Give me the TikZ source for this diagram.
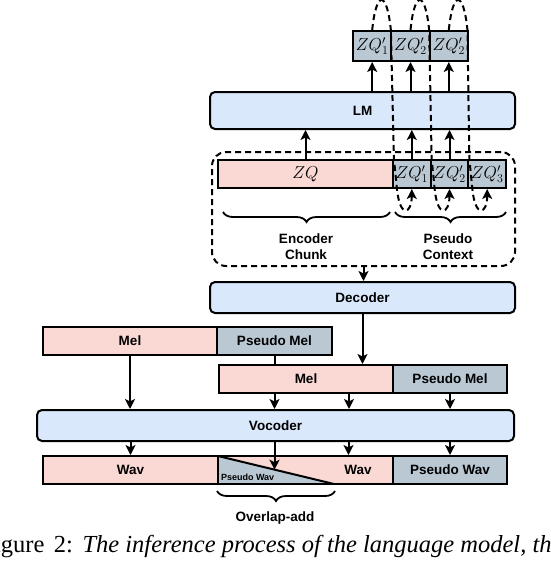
\documentclass[tikz,border=0pt]{standalone}
\usepackage{fontspec}
\setsansfont{Liberation Sans}
\newfontfamily\capfont{Liberation Serif}
\usetikzlibrary{arrows.meta,decorations.pathreplacing}
\definecolor{modelBlue}{HTML}{DAE8FC}
\definecolor{realPink}{HTML}{FAD9D5}
\definecolor{pseudoGrey}{HTML}{BAC8D3}

\begin{document}
\begin{tikzpicture}[x=1pt, y=-1pt, line width=2pt,
    every node/.style={font=\sffamily\bfseries\fontsize{13.5}{16}\selectfont, inner sep=0pt},
    model/.style={draw, fill=modelBlue, rounded corners=5pt, minimum width=305pt},
    real/.style={draw, fill=realPink, minimum height=28pt},
    pseudo/.style={draw, fill=pseudoGrey, minimum height=28pt},
    zq/.style={font=\fontsize{16.5}{18}\selectfont},
    flow/.style={-{Stealth[length=10pt,width=10pt,inset=2.5pt]}},
    feedback/.style={flow, dash pattern=on 6pt off 4pt},
    bracebelow/.style={line width=1.8pt, decorate, decoration={brace, mirror, amplitude=10pt}}]
    \useasboundingbox (0,0) rectangle (550,562);

    \node[model, minimum height=37pt] (lm) at (362.5,110.5) {LM};
    \foreach \i/\x/\t in {1/372.2/1, 2/410.5/2, 3/448.8/2}{
        \node[pseudo, zq, minimum width=38.3pt, minimum height=30pt] (out\i) at (\x,46) {$ZQ'_\t$};
    }

    \node[draw, dash pattern=on 6pt off 4pt, rounded corners=14pt, minimum width=303pt, minimum height=114pt] (ctx) at (363.5,209) {};
    \node[real, zq, minimum width=175pt] (zq) at (305.5,174) {$ZQ$};
    \foreach \i/\x in {1/411.8, 2/449.5, 3/487.2}{
        \node[pseudo, zq, minimum width=37.7pt] (in\i) at (\x,174) {$ZQ'_\i$};
    }
    \draw[bracebelow] (223,212) -- (390,212);
    \draw[bracebelow] (395,212) -- (506,212);
    \node[align=center] (enc) at (306,247) {Encoder\\Chunk};
    \node[align=center] (psc) at (448,247) {Pseudo\\Context};

    \node[model, minimum height=31pt] (dec) at (362.5,297.5) {Decoder};

    \node[real, minimum width=174pt] (mel1) at (130,341) {Mel};
    \node[pseudo, minimum width=115pt] (pmel1) at (274.5,341) {Pseudo Mel};
    \node[real, minimum width=174pt] (mel2) at (306,379) {Mel};
    \node[pseudo, minimum width=114pt] (pmel2) at (450,379) {Pseudo Mel};

    \node[model, minimum width=477pt, minimum height=31pt] (voc) at (275.5,425.5) {Vocoder};

    \node[real, minimum width=175pt] (wav1) at (130.5,470) {Wav};
    \node[real, minimum width=175pt, path picture={
        \fill[pseudoGrey] (path picture bounding box.north west) -- (path picture bounding box.south west) -- ([xshift=116pt]path picture bounding box.south west) -- cycle;
        \draw (path picture bounding box.north west) -- ([xshift=116pt]path picture bounding box.south west);
    }] (wav2) at (305.5,470) {};
    \node[font=\sffamily\bfseries\fontsize{9}{10}\selectfont, anchor=base west] (pwavs) at (220,480) {Pseudo Wav};
    \node (wav2t) at (358,470) {Wav};
    \node[pseudo, minimum width=114pt] (pwav) at (450,470) {Pseudo Wav};
    \draw[bracebelow] (217,491) -- (335,491);
    \node (ola) at (275,518) {Overlap-add};
    \coordinate (olahit) at (274.5,469.7);

    \draw[flow] (zq.north) -- (zq.north |- lm.south);
    \foreach \i in {1,2}{
        \draw[flow] (in\i.north) -- (in\i.north |- lm.south);
    }
    \foreach \i in {1,2,3}{
        \draw[flow] (lm.north -| out\i) -- (out\i.south);
        \draw[feedback] (out\i.north) .. controls +(4,-40) and +(-4,-40) .. ([xshift=-1.5pt]out\i.north east) -- ([xshift=2pt]in\i.north west) -- ([xshift=5pt]in\i.south west) .. controls +(3,30) and +(0,25) .. (in\i.south);
    }
    \draw[flow] (ctx.south) -- (ctx.south |- dec.north);
    \draw[flow] (dec.south) -- (dec.south |- mel2.north);
    \draw (pmel1.south) -- (pmel1.south |- mel2.north);
    \draw[flow] (mel1.south) -- (mel1.south |- voc.north);
    \draw[flow] (mel2.south -| pmel1.south) -- (voc.north -| pmel1.south);
    \draw[flow] ([xshift=43pt]mel2.south) -- ([xshift=43pt]mel2.south |- voc.north);
    \draw[flow] (pmel2.south) -- (pmel2.south |- voc.north);
    \draw[flow] (voc.south -| wav1.north) -- (wav1.north);
    \draw[flow] (voc.south -| olahit) -- (olahit);
    \draw[flow] ([xshift=43pt]wav2.north |- voc.south) -- ([xshift=43pt]wav2.north);
    \draw[flow] (voc.south -| pwav.north) -- (pwav.north);

    \node[font=\capfont\fontsize{24.5}{28}\selectfont, anchor=base west] (cap) at (-20.5,552) {Figure\hspace{9.5pt}2:\hspace{9.5pt}\textit{The inference process of the language model, the}};
\end{tikzpicture}
\end{document}
